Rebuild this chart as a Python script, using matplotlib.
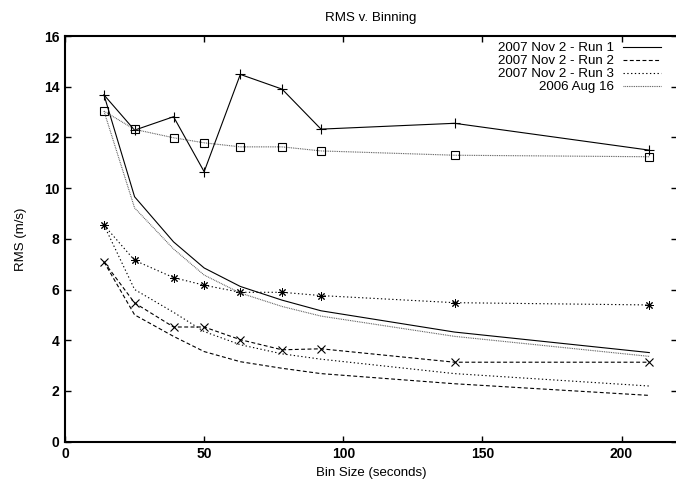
import matplotlib
matplotlib.use('Agg')
import matplotlib.pyplot as plt
from matplotlib.lines import Line2D

plt.rcParams['font.family'] = ['Liberation Sans', 'DejaVu Sans']

# bin sizes (seconds)
bins = [14, 25, 39, 50, 63, 78, 92, 140, 210]

# measured RMS values
run1 = [13.68, 12.29, 12.82, 10.65, 14.49, 13.91, 12.33, 12.56, 11.50]
run2 = [7.09, 5.47, 4.52, 4.52, 4.02, 3.62, 3.66, 3.13, 3.13]
run3 = [8.54, 7.15, 6.47, 6.17, 5.89, 5.89, 5.76, 5.48, 5.39]
aug16 = [13.04, 12.32, 11.99, 11.79, 11.63, 11.63, 11.47, 11.30, 11.24]

# expected (white noise) curves
fit1 = [13.68, 9.66, 7.88, 6.85, 6.12, 5.58, 5.16, 4.32, 3.51]
fit2 = [7.09, 5.00, 4.15, 3.55, 3.15, 2.89, 2.68, 2.28, 1.82]
fit3 = [8.54, 6.00, 5.10, 4.34, 3.82, 3.46, 3.25, 2.68, 2.19]
fit_aug = [13.04, 9.22, 7.60, 6.57, 5.86, 5.33, 4.95, 4.15, 3.36]

labels = ['2007 Nov 2 - Run 1', '2007 Nov 2 - Run 2',
          '2007 Nov 2 - Run 3', '2006 Aug 16']

fig = plt.figure(figsize=(6.76, 4.82), dpi=100)
ax = fig.add_axes([0.0962, 0.084, 0.9055, 0.841])

lw = 0.8
styles = [
    dict(color='black', linestyle='-'),
    dict(color='black', linestyle=(0, (3.5, 2.2))),
    dict(color='black', linestyle=(0, (1.2, 2.2))),
    dict(color='#555555', linestyle=(0, (0.8, 0.8))),
]
markers = [
    dict(marker='+', markersize=6.5, markeredgewidth=0.8),
    dict(marker='x', markersize=5.5, markeredgewidth=0.8),
    dict(marker=(8, 2, 0), markersize=6, markeredgewidth=0.7),
    dict(marker='s', markersize=5.5, markerfacecolor='none',
         markeredgecolor='black', markeredgewidth=0.8),
]

for meas, fit, st, mk in zip([run1, run2, run3, aug16],
                             [fit1, fit2, fit3, fit_aug], styles, markers):
    ax.plot(bins, meas, lw=lw, **st, **mk)
    ax.plot(bins, fit, lw=lw, **st)

handles = [Line2D([], [], lw=lw, **st) for st in styles]
ax.legend(handles, labels, loc='upper right',
          bbox_to_anchor=(661 / 676, 1 - 42 / 482),
          bbox_transform=fig.transFigure,
          frameon=False, markerfirst=False, fontsize=9.6,
          handlelength=2.85, handletextpad=0.7, labelspacing=0.05,
          borderpad=0, borderaxespad=0)

ax.set_xlim(0, 220)
ax.set_ylim(0, 16)
ax.set_xticks([0, 50, 100, 150, 200])
ax.set_yticks(range(0, 17, 2))
ax.tick_params(direction='in', length=4, width=1, top=True, right=True,
               labelsize=10, pad=4)
for lab in ax.get_xticklabels() + ax.get_yticklabels():
    lab.set_fontweight('bold')
for sp in ax.spines.values():
    sp.set_linewidth(1.5)

ax.set_title('RMS v. Binning', fontsize=9.6, pad=10.8)
ax.set_xlabel('Bin Size (seconds)', fontsize=9.5, labelpad=4)
ax.set_ylabel('RMS (m/s)', fontsize=9.5, labelpad=12)

fig.savefig('out.png', dpi=100)
